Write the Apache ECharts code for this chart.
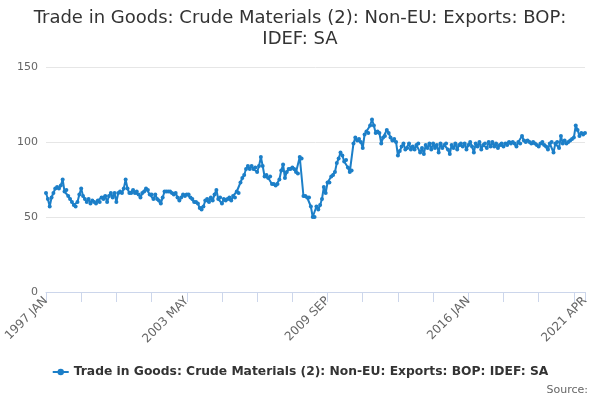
<!DOCTYPE html>
<html>
<head>
<meta charset="utf-8">
<script src="https://cdn.jsdelivr.net/npm/echarts@6/dist/echarts.min.js"></script>
<style>
  html, body { margin: 0; padding: 0; background: #fff; }
  #chart { width: 600px; height: 400px; }
</style>
</head>
<body>
<div id="chart"></div>
<script>
const seriesName = 'Trade in Goods: Crude Materials (2): Non-EU: Exports: BOP: IDEF: SA';
const monthNames = ['JAN', 'FEB', 'MAR', 'APR', 'MAY', 'JUN', 'JUL', 'AUG', 'SEP', 'OCT', 'NOV', 'DEC'];
const firstYear = 1997;
const lastYear = 2021;
const lastMonth = 4;

// values, 1997 JAN .. 2021 APR
const values1997to1999 = [66, 62, 57, 63, 66, 69, 70, 69, 71, 75, 67, 68, 64, 62, 60, 58, 57, 60, 65, 69,
  64, 62, 60, 62, 59, 61, 60, 59, 61, 60, 63, 62, 64, 60, 64];
const values1999to2002 = [66, 63, 66, 60, 66, 67, 66, 69, 75, 69, 66, 66, 68, 66, 67, 65, 63, 66, 67, 69,
  68, 65, 65, 62, 65, 62, 61, 59, 63, 67, 67, 67, 67, 66, 65, 66, 63];
const values2003to2005 = [61, 63, 65, 64, 65, 65, 63, 62, 60, 60, 59, 56, 55, 57, 61, 62, 60, 63, 61, 65,
  68, 62, 63, 59, 62, 61, 62, 63, 61, 64, 63, 67, 66, 73, 76, 78];
const values2006to2008 = [82, 84, 82, 84, 82, 83, 80, 84, 90, 84, 77, 78, 76, 77, 72, 72, 71, 72, 75, 81,
  85, 76, 80, 82, 82, 83, 82, 80, 79, 90, 89, 64, 64, 63, 63, 57];
const values2009to2012 = [50, 50, 57, 55, 58, 62, 70, 66, 73, 73, 77, 78, 80, 86, 89, 93, 91, 87, 88, 83,
  80, 81, 99, 103, 101, 102, 100, 96, 105, 107, 106, 111, 115, 111, 106, 107, 106, 99, 103, 104,
  108, 106, 103, 101, 102, 100];
const values2012to2016 = [91, 94, 97, 99, 95, 96, 99, 95, 97, 95, 98, 99, 93, 96, 92, 98, 96, 99, 95, 99,
  96, 98, 93, 99, 96, 98, 99, 95, 92, 98, 96, 99, 95, 98, 99, 97, 99, 95, 98, 100,
  97, 93, 99, 97, 100, 95, 98, 99, 96];
const values2016to2021 = [100, 97, 100, 97, 99, 96, 98, 99, 97, 99, 98, 100, 99, 100, 99, 97, 100, 99, 104, 101,
  100, 101, 100, 99, 100, 99, 98, 97, 99, 100, 98, 97, 95, 99, 100, 93, 99, 100, 96, 104,
  99, 101, 99, 100, 101, 102, 103, 111, 108, 104, 106, 105, 106];
const yTicks = [0, 50, 100, 150];

const categories = [];
for (let y = firstYear; y <= lastYear; y += 1) {
  for (let m = 0; m < 12; m += 1) {
    if (y === lastYear && m >= lastMonth) break;
    categories.push(y + ' ' + monthNames[m]);
  }
}
const values = [].concat(values1997to1999, values1999to2002, values2003to2005, values2006to2008,
  values2009to2012, values2012to2016, values2016to2021);
const lastIndex = categories.length - 1;

const chart = echarts.init(document.getElementById('chart'));
chart.setOption({
  animation: false,
  textStyle: { fontFamily: 'DejaVu Sans' },
  title: {
    text: 'Trade in Goods: Crude Materials (2): Non-EU: Exports: BOP:\nIDEF: SA',
    left: 'center',
    top: 3,
    textStyle: { fontSize: 18, fontWeight: 'normal', color: '#333', lineHeight: 21 },
  },
  grid: { left: 46, right: 15, top: 67, bottom: 108 },
  legend: {
    bottom: 17,
    left: 'center',
    itemWidth: 16,
    itemHeight: 8,
    textStyle: { fontSize: 12.3, fontWeight: 'bold', color: '#333' },
    data: [seriesName],
  },
  graphic: [{
    type: 'text',
    right: 12,
    bottom: 4,
    style: { text: 'Source:', fontSize: 11, fill: '#666', fontFamily: 'DejaVu Sans' },
  }],
  xAxis: {
    type: 'category',
    data: categories,
    boundaryGap: false,
    axisLine: { lineStyle: { color: '#ccd6eb' } },
    axisTick: {
      length: 10,
      interval: (i) => i % 19 === 0 || i === lastIndex,
      lineStyle: { color: '#ccd6eb' },
    },
    axisLabel: {
      rotate: 45,
      fontSize: 12,
      color: '#666',
      margin: 7,
      interval: (i) => i % 76 === 0 || i === lastIndex,
    },
    splitLine: { show: false },
  },
  yAxis: {
    type: 'value',
    min: yTicks[0],
    max: yTicks[yTicks.length - 1],
    interval: 50,
    axisLine: { show: false },
    axisTick: { show: false },
    axisLabel: { fontSize: 11, color: '#666', margin: 8 },
    splitLine: { lineStyle: { color: '#e6e6e6' } },
  },
  series: [{
    name: seriesName,
    type: 'line',
    data: values,
    symbol: 'circle',
    symbolSize: 4,
    showAllSymbol: true,
    color: '#1c7fc8',
    lineStyle: { width: 2, color: '#1c7fc8' },
    itemStyle: { color: '#1c7fc8' },
  }],
});
</script>
</body>
</html>
